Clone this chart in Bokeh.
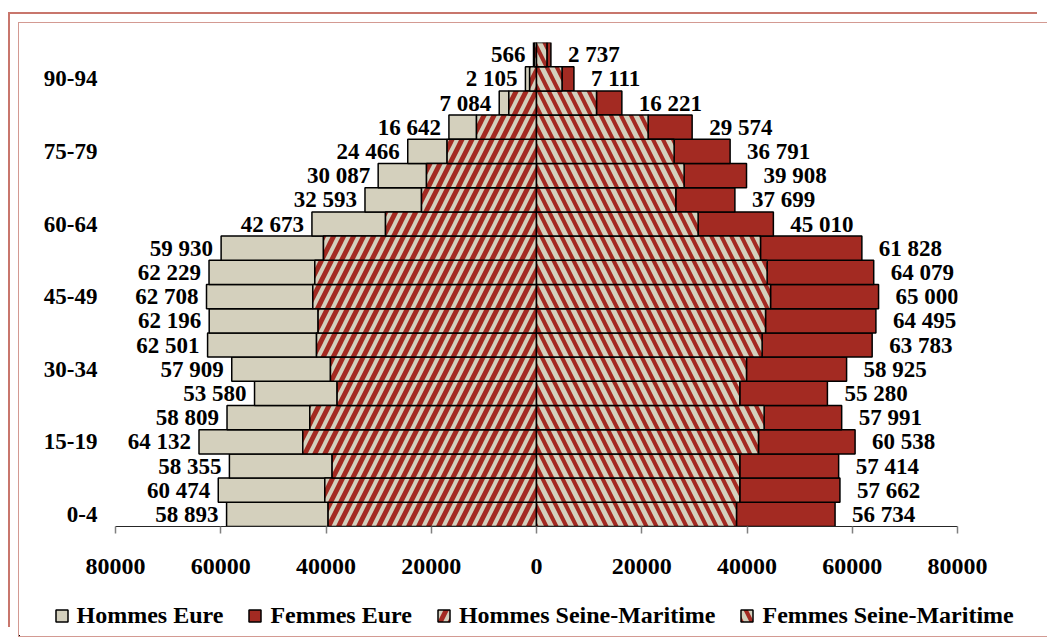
from bokeh.plotting import figure
from bokeh.models import (ColumnDataSource, FixedTicker, Legend, LegendItem,
                          LinearAxis)
from bokeh.layouts import column
from bokeh.core.properties import value
from bokeh.embed import file_html
from bokeh.resources import INLINE

# ---------------- data ----------------
ages = ["0-4", "5-9", "10-14", "15-19", "20-24", "25-29", "30-34", "35-39",
        "40-44", "45-49", "50-54", "55-59", "60-64", "65-69", "70-74",
        "75-79", "80-84", "85-89", "90-94", "95+"]

hommes_seine_maritime = [39600, 40230, 38840, 44410, 43080, 37890, 39150, 41800,
                         41500, 42510, 42130, 40480, 28690, 21850, 20900, 16990,
                         11400, 5260, 1300, 400]
hommes_eure = [19293, 20244, 19515, 19722, 15729, 15690, 18759, 20701,
               20696, 20198, 20099, 19450, 13983, 10743, 9187, 7476,
               5242, 1824, 805, 166]

femmes_seine_maritime = [38000, 38630, 38630, 42180, 43250, 38630, 39900, 42870,
                         43520, 44470, 43820, 42560, 30710, 26470, 28050, 26150,
                         21210, 11400, 4850, 1980]
femmes_eure = [18734, 19032, 18784, 18358, 14741, 16650, 19025, 20913,
               20975, 20530, 20259, 19268, 14300, 11229, 11858, 10641,
               8364, 4821, 2261, 757]

x_ticks = [-80000, -60000, -40000, -20000, 0, 20000, 40000, 60000, 80000]
shown_age_idx = [0, 3, 6, 9, 12, 15, 18]
legend_labels = ["Hommes Eure", "Femmes Eure", "Hommes Seine-Maritime",
                 "Femmes Seine-Maritime"]

# ---------------- style ----------------
BEIGE = "#D4D0BD"
RED = "#A32A22"
FONT = "Liberation Serif"
W = 1028

def fmt(v):
    return "{:,}".format(v).replace(",", " ")

idx = list(range(len(ages)))
tot_h = [a + b for a, b in zip(hommes_seine_maritime, hommes_eure)]
tot_f = [a + b for a, b in zip(femmes_seine_maritime, femmes_eure)]

src = ColumnDataSource(dict(
    y=idx,
    h_sm_l=[-v for v in hommes_seine_maritime],
    h_tot_l=[-v for v in tot_h],
    f_sm=femmes_seine_maritime,
    f_tot=tot_f,
    zero=[0] * len(idx),
    h_lab=[fmt(v) for v in tot_h],
    f_lab=[fmt(v) for v in tot_f],
))

def bars(fig):
    common = dict(height=1.0, line_color="black", line_width=1.5, source=src)
    r_he = fig.hbar(y="y", left="h_tot_l", right="h_sm_l", fill_color=BEIGE, **common)
    r_fe = fig.hbar(y="y", left="f_sm", right="f_tot", fill_color=RED, **common)
    r_hsm = fig.hbar(y="y", left="h_sm_l", right="zero", fill_color=RED,
                     hatch_pattern="/", hatch_color=BEIGE, hatch_weight=4,
                     hatch_scale=20, **common)
    r_fsm = fig.hbar(y="y", left="zero", right="f_sm", fill_color=BEIGE,
                     hatch_pattern="\\", hatch_color=RED, hatch_weight=4,
                     hatch_scale=20, **common)
    return [r_he, r_fe, r_hsm, r_fsm]

# ---------------- main chart ----------------
p = figure(width=W, height=565, x_range=(-80000, 80000), y_range=(-0.5, 19.5),
           output_backend="svg", toolbar_location=None,
           min_border_left=96, min_border_right=90, min_border_top=19,
           min_border_bottom=62, x_axis_location=None, y_axis_location=None)
p.frame_align = False
p.outline_line_color = None
p.xgrid.visible = False
p.ygrid.visible = False
p.background_fill_color = "white"
p.border_fill_color = "white"

bars(p)

p.text(x="h_tot_l", y="y", text="h_lab", source=src, text_align="right",
       text_baseline="middle", x_offset=-8, text_font=value(FONT),
       text_font_style="bold", text_font_size="23px", text_color="black")
p.text(x="f_tot", y="y", text="f_lab", source=src, text_align="left",
       text_baseline="middle", x_offset=17, text_font=value(FONT),
       text_font_style="bold", text_font_size="23px", text_color="black")

xax = LinearAxis(ticker=FixedTicker(ticks=x_ticks),
                 major_label_overrides={t: str(abs(t)) for t in x_ticks})
xax.axis_line_color = "#262626"
xax.axis_line_width = 1.2
xax.major_tick_line_color = "#808080"
xax.major_tick_line_width = 1.5
xax.major_tick_out = 7
xax.major_tick_in = 0
xax.minor_tick_line_color = None
xax.minor_tick_out = 0
xax.minor_tick_in = 0
xax.major_label_standoff = 25
xax.major_label_text_font = FONT
xax.major_label_text_font_style = "bold"
xax.major_label_text_font_size = "24px"
xax.major_label_text_color = "black"
p.add_layout(xax, "below")

yax = LinearAxis(ticker=FixedTicker(ticks=shown_age_idx),
                 major_label_overrides={i: ages[i] for i in shown_age_idx})
yax.axis_line_color = None
yax.major_tick_line_color = None
yax.minor_tick_line_color = None
yax.major_tick_out = 0
yax.major_tick_in = 0
yax.minor_tick_out = 0
yax.minor_tick_in = 0
yax.major_label_standoff = 18
yax.major_label_text_font = FONT
yax.major_label_text_font_style = "bold"
yax.major_label_text_font_size = "23px"
yax.major_label_text_color = "black"
p.add_layout(yax, "left")

# ---------------- legend strip ----------------
pl = figure(width=W, height=48, x_range=(200000, 300000), y_range=(100, 120),
            output_backend="svg", toolbar_location=None, min_border=0,
            x_axis_location=None, y_axis_location=None)
pl.frame_align = False
pl.outline_line_color = None
pl.xgrid.visible = False
pl.ygrid.visible = False
pl.background_fill_color = "white"
pl.border_fill_color = "white"
leg_r = bars(pl)

legend = Legend(items=[LegendItem(label=lab, renderers=[r])
                       for lab, r in zip(legend_labels, leg_r)],
                orientation="horizontal", location=(34.5, 7))
legend.glyph_width = 15
legend.glyph_height = 15
legend.label_standoff = 8
legend.spacing = 24
legend.padding = 0
legend.margin = 0
legend.border_line_color = None
legend.background_fill_alpha = 0
legend.label_text_font = FONT
legend.label_text_font_style = "bold"
legend.label_text_font_size = "24px"
legend.label_text_color = "black"
legend.label_text_baseline = "middle"
pl.add_layout(legend, "center")

layout = column(p, pl, spacing=0, styles={
    "position": "relative", "left": "18px", "top": "22px",
    "border-left": "1.5px solid #D39A92",
    "border-top": "1.5px solid #D39A92",
    "border-bottom": "1.5px solid #D39A92",
    "box-shadow": "-8px -8px 0 0 #FFFFFF, -10px -10px 0 0 #C8766C",
})

open("out.html", "w").write(file_html(layout, INLINE))
